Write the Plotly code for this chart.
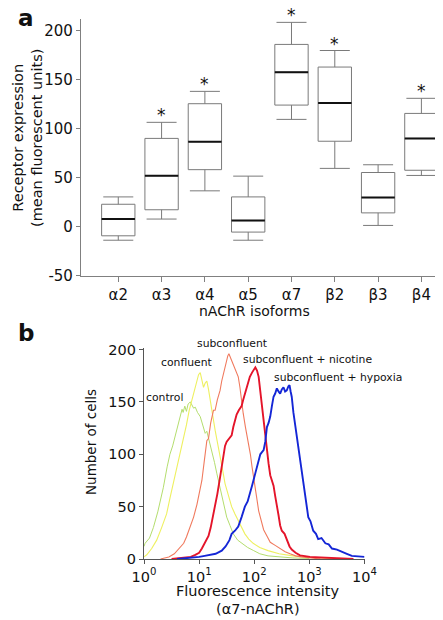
import plotly.graph_objects as go

# ---------------- Panel a data ----------------
isoforms = ["α2", "α3", "α4", "α5", "α7", "β2", "β3", "β4"]
lower_whisker = [-13.8, 7.8, 36.6, -13.8, 109.5, 59.5, 1.3, 52.3]
q1_vals = [-9.3, 17.3, 58.2, -5.5, 124.1, 87.2, 14.1, 57.6]
median_vals = [7.8, 52.0, 86.8, 6.2, 157.7, 126.2, 29.7, 90.1]
q3_vals = [22.9, 90.1, 125.5, 30.4, 186.0, 162.9, 55.3, 115.6]
upper_whisker = [30.4, 106.5, 138.1, 51.6, 208.5, 179.8, 63.2, 131.0]
significant = ["α3", "α4", "α7", "β2", "β4"]
ya_ticks = [-50, 0, 50, 100, 150, 200]
ya_ticktext = ["-50", "0", "50", "100", "150", "200"]

# ---------------- Panel b data (log10 fluorescence, cell count) ----------------
control_log = [0.0, 0.02, 0.10, 0.17, 0.25, 0.35, 0.42, 0.47, 0.52, 0.56, 0.60, 0.65, 0.69, 0.71,
               0.74, 0.77, 0.80, 0.84, 0.87, 0.90, 0.93, 0.97, 1.02, 1.07, 1.11, 1.14, 1.17, 1.20,
               1.23, 1.28, 1.32, 1.37, 1.41, 1.46, 1.50, 1.56, 1.62, 1.70, 1.78, 1.88, 1.99, 2.10,
               2.25, 2.45, 2.70, 3.00]
control_cnt = [12, 15, 20, 30, 45, 68, 88, 100, 108, 116, 126, 136, 143, 140,
               146, 141, 148, 150, 147, 144, 145, 140, 136, 128, 120, 122, 116, 110,
               104, 92, 82, 70, 60, 50, 40, 32, 24, 18, 15, 11, 8, 5,
               3, 2, 1, 0.5]

confluent_log = [0.0, 0.05, 0.14, 0.23, 0.32, 0.41, 0.47, 0.53, 0.59, 0.65, 0.71, 0.77, 0.82, 0.87,
                 0.91, 0.96, 0.99, 1.02, 1.05, 1.08, 1.11, 1.14, 1.17, 1.20, 1.25, 1.29, 1.34, 1.38,
                 1.43, 1.47, 1.53, 1.59, 1.65, 1.71, 1.77, 1.83, 1.90, 1.98, 2.10, 2.25, 2.45, 2.70,
                 3.00, 3.40]
confluent_cnt = [2, 4, 10, 18, 30, 43, 58, 72, 85, 100, 115, 128, 142, 152,
                 160, 170, 176, 178, 170, 164, 168, 170, 162, 151, 136, 123, 110, 97,
                 84, 72, 60, 50, 43, 37, 30, 24, 19, 15, 11, 8, 5, 3,
                 1.5, 0.5]

subconf_log = [0.30, 0.45, 0.55, 0.65, 0.72, 0.77, 0.83, 0.90, 0.96, 1.02, 1.05, 1.09, 1.14, 1.17,
               1.21, 1.26, 1.29, 1.33, 1.38, 1.41, 1.44, 1.48, 1.52, 1.54, 1.57, 1.59, 1.62, 1.65,
               1.68, 1.71, 1.74, 1.77, 1.80, 1.84, 1.89, 1.93, 1.96, 2.00, 2.04, 2.08, 2.13, 2.17,
               2.23, 2.29, 2.38, 2.47, 2.56, 2.65, 2.75, 2.85, 3.00, 3.20]
subconf_cnt = [0, 2, 5, 11, 15, 21, 30, 40, 52, 69, 75, 92, 113, 115,
               130, 142, 142, 152, 161, 170, 177, 185, 194, 196, 192, 190, 186, 183,
               178, 174, 164, 150, 139, 126, 113, 100, 88, 72, 60, 46, 36, 28,
               22, 16, 13, 10, 7, 5, 3, 2, 1, 0]

nicotine_log = [0.50, 0.70, 0.85, 0.93, 1.00, 1.05, 1.10, 1.14, 1.17, 1.21, 1.25, 1.29, 1.33, 1.38,
                1.41, 1.44, 1.47, 1.50, 1.53, 1.56, 1.59, 1.62, 1.65, 1.68, 1.72, 1.77, 1.80, 1.83,
                1.87, 1.92, 1.96, 2.00, 2.02, 2.05, 2.08, 2.11, 2.14, 2.17, 2.20, 2.23, 2.26, 2.29,
                2.32, 2.35, 2.38, 2.41, 2.44, 2.47, 2.50, 2.55, 2.59, 2.64, 2.68, 2.75, 2.83, 2.92,
                3.01, 3.20, 3.50, 3.80]
nicotine_cnt = [0, 1, 2, 4, 6, 10, 15, 18, 22, 30, 40, 53, 62, 78,
                88, 100, 108, 112, 114, 116, 118, 126, 133, 138, 142, 146, 152, 158,
                164, 174, 178, 181, 183, 180, 174, 160, 145, 130, 116, 102, 91, 80,
                75, 70, 60, 52, 42, 32, 27, 24, 18, 12, 9, 6, 3.5, 2.5,
                2, 1.5, 0.5, 0]

hypoxia_log = [0.60, 0.90, 1.00, 1.10, 1.20, 1.30, 1.41, 1.48, 1.55, 1.59, 1.65, 1.71, 1.77, 1.83,
               1.88, 1.92, 1.96, 2.02, 2.06, 2.11, 2.14, 2.17, 2.20, 2.23, 2.26, 2.29, 2.32, 2.35,
               2.38, 2.41, 2.44, 2.47, 2.50, 2.53, 2.56, 2.59, 2.62, 2.64, 2.66, 2.68, 2.71, 2.74,
               2.77, 2.80, 2.83, 2.86, 2.89, 2.92, 2.95, 2.98, 3.02, 3.07, 3.12, 3.16, 3.22, 3.29,
               3.35, 3.41, 3.50, 3.59, 3.68, 3.77, 3.86, 3.95, 4.00]
hypoxia_cnt = [0, 1, 2, 3, 4, 5, 8, 12, 18, 24, 27, 31, 40, 50,
               55, 62, 70, 82, 90, 100, 102, 104, 112, 126, 130, 136, 146, 155,
               158, 163, 160, 158, 162, 164, 160, 161, 165, 166, 160, 155, 140, 129,
               115, 104, 94, 82, 72, 62, 52, 40, 36, 27, 24, 19, 20, 15,
               14, 10, 9, 6.7, 5, 3, 2.5, 2, 2]

xb_ticks = [1, 10, 100, 1000, 10000]
xb_ticktext = ["10<sup>0</sup>", "10<sup>1</sup>", "10<sup>2</sup>", "10<sup>3</sup>", "10<sup>4</sup>"]
yb_ticks = [0, 50, 100, 150, 200]

# The page body has an 8px margin, so the figure is drawn 8px in from the window edge.
OFF = 8
W, H = 443 - OFF, 620 - OFF
FONT = "DejaVu Sans"


def fx(x):
    """window pixel x -> paper fraction"""
    return (x - OFF) / W


def fy(y):
    """window pixel y -> paper fraction"""
    return 1 - (y - OFF) / H


fig = go.Figure()

# Panel a boxes
fig.add_trace(go.Box(
    x=isoforms, q1=q1_vals, median=median_vals, q3=q3_vals,
    lowerfence=lower_whisker, upperfence=upper_whisker,
    fillcolor="rgba(0,0,0,0)", line=dict(color="#7a7a7a", width=1),
    whiskerwidth=0.9, width=0.77, boxpoints=False,
    xaxis="x", yaxis="y", showlegend=False, hoverinfo="skip"))
# black median bars
fig.add_trace(go.Box(
    x=isoforms, q1=median_vals, median=median_vals, q3=median_vals,
    lowerfence=median_vals, upperfence=median_vals,
    fillcolor="rgba(0,0,0,0)", line=dict(color="#111111", width=2),
    whiskerwidth=0, width=0.77, boxpoints=False,
    xaxis="x", yaxis="y", showlegend=False, hoverinfo="skip"))

# Panel b histograms
curves = [
    (control_log, control_cnt, "#b4dd6e", 1.0),
    (confluent_log, confluent_cnt, "#eef060", 1.1),
    (subconf_log, subconf_cnt, "#f07a5e", 1.1),
    (nicotine_log, nicotine_cnt, "#e4142a", 1.9),
    (hypoxia_log, hypoxia_cnt, "#1426d6", 1.9),
]
for lx, cnt, col, lw in curves:
    fig.add_trace(go.Scatter(
        x=[10 ** v for v in lx], y=cnt, mode="lines",
        line=dict(color=col, width=lw), xaxis="x2", yaxis="y2",
        showlegend=False, hoverinfo="skip"))

annotations = []
# significance asterisks
for cat, up in zip(isoforms, upper_whisker):
    if cat in significant:
        annotations.append(dict(x=cat, y=up, xref="x", yref="y", text="*",
                                showarrow=False, yanchor="middle", yshift=7,
                                font=dict(family=FONT, size=17, color="#111")))

# panel letters
for t, x, y in [("a", 26, 18), ("b", 26, 333)]:
    annotations.append(dict(x=fx(x), y=fy(y), xref="paper", yref="paper", text="<b>%s</b>" % t,
                            showarrow=False, xanchor="center", yanchor="middle",
                            font=dict(family=FONT, size=23, color="#111")))

# axis titles
title_specs = [
    ("Receptor expression<br>(mean fluorescent units)", 27, 138, -90, 14.5),
    ("nAChR isoforms", 255, 311, 0, 14),
    ("Number of cells", 91, 442, -90, 13.5),
    ("Fluorescence intensity", 258, 591, 0, 14.5),
    ("(α7-nAChR)", 258, 609, 0, 14.5),
]
for t, x, y, ang, fs in title_specs:
    annotations.append(dict(x=fx(x), y=fy(y), xref="paper", yref="paper", text=t, textangle=ang,
                            showarrow=False, xanchor="center", yanchor="middle",
                            font=dict(family=FONT, size=fs, color="#111")))

# curve labels
label_specs = [
    ("control", 164.5, 397),
    ("confluent", 186.5, 362),
    ("subconfluent", 231.5, 343),
    ("subconfluent + nicotine", 307.5, 359),
    ("subconfluent + hypoxia", 337.5, 377),
]
for t, x, y in label_specs:
    annotations.append(dict(x=fx(x), y=fy(y), xref="paper", yref="paper", text=t,
                            showarrow=False, xanchor="center", yanchor="middle",
                            font=dict(family=FONT, size=10.8, color="#111")))

# panel a: 200 at y=30.7 px, 0 at y=226.7 px -> 0.98 px/unit
ya_top = 212.0
ya_top_px = 226.7 - ya_top * 0.98
# category spacing 43.3 px, first category at x=118.3 px
xa_range = [-0.861, 7.40]
xa_right_px = 118.3 + 43.3 * xa_range[1]
axcol_a = "#808080"
axcol_b = "#555555"
fig.update_layout(
    width=W, height=H, margin=dict(l=0, r=0, t=0, b=0, autoexpand=False),
    paper_bgcolor="white", plot_bgcolor="white", boxmode="overlay",
    font=dict(family=FONT, color="#111"),
    xaxis=dict(domain=[fx(81), fx(xa_right_px)], type="category", range=xa_range,
               showline=True, linecolor=axcol_a, linewidth=1.2, ticks="outside",
               ticklen=5, tickcolor=axcol_a, showgrid=False, zeroline=False, automargin=False,
               tickfont=dict(family=FONT, size=15, color="#111"), anchor="y"),
    yaxis=dict(domain=[fy(275.7), fy(ya_top_px)], range=[-50, ya_top],
               tickvals=ya_ticks, ticktext=ya_ticktext,
               showline=True, linecolor=axcol_a, linewidth=1.2, ticks="outside",
               ticklen=4, tickcolor=axcol_a, showgrid=False, zeroline=False, automargin=False,
               tickfont=dict(family=FONT, size=15, color="#111"), anchor="x"),
    xaxis2=dict(domain=[fx(144), fx(364.5)], type="log", range=[0, 4],
                tickvals=xb_ticks, ticktext=xb_ticktext,
                showline=True, linecolor=axcol_b, linewidth=1.2, ticks="outside",
                ticklen=4, tickcolor=axcol_b, showgrid=False, zeroline=False, automargin=False,
                tickfont=dict(family=FONT, size=14.5, color="#111"), anchor="y2"),
    yaxis2=dict(domain=[fy(559), fy(348)], range=[0, 201.5], tickvals=yb_ticks,
                showline=True, linecolor=axcol_b, linewidth=1.2, ticks="outside",
                ticklen=4, tickcolor=axcol_b, showgrid=False, zeroline=False, automargin=False,
                tickfont=dict(family=FONT, size=14.5, color="#111"), anchor="x2"),
    annotations=annotations,
)

fig.write_html("out.html")
